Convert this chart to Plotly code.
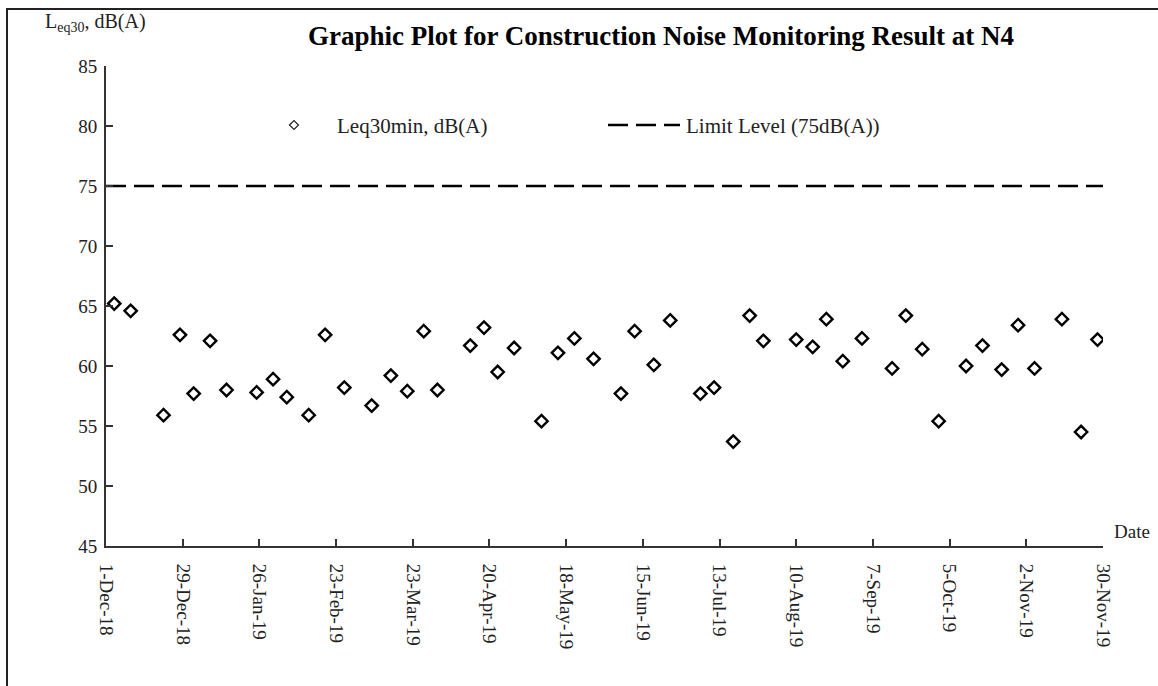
import plotly.graph_objects as go

# ---- data ----
dates = [
    "2018-12-04", "2018-12-10", "2018-12-22", "2018-12-28", "2019-01-02", "2019-01-08",
    "2019-01-14", "2019-01-25", "2019-01-31", "2019-02-05", "2019-02-13", "2019-02-19",
    "2019-02-26", "2019-03-08", "2019-03-15", "2019-03-21", "2019-03-27", "2019-04-01",
    "2019-04-13", "2019-04-18", "2019-04-23", "2019-04-29", "2019-05-09", "2019-05-15",
    "2019-05-21", "2019-05-28", "2019-06-07", "2019-06-12", "2019-06-19", "2019-06-25",
    "2019-07-06", "2019-07-11", "2019-07-18", "2019-07-24", "2019-07-29", "2019-08-10",
    "2019-08-16", "2019-08-21", "2019-08-27", "2019-09-03", "2019-09-14", "2019-09-19",
    "2019-09-25", "2019-10-01", "2019-10-11", "2019-10-17", "2019-10-24", "2019-10-30",
    "2019-11-05", "2019-11-15", "2019-11-22", "2019-11-28",
]
leq30 = [
    65.2, 64.6, 55.9, 62.6, 57.7, 62.1,
    58.0, 57.8, 58.9, 57.4, 55.9, 62.6,
    58.2, 56.7, 59.2, 57.9, 62.9, 58.0,
    61.7, 63.2, 59.5, 61.5, 55.4, 61.1,
    62.3, 60.6, 57.7, 62.9, 60.1, 63.8,
    57.7, 58.2, 53.7, 64.2, 62.1, 62.2,
    61.6, 63.9, 60.4, 62.3, 59.8, 64.2,
    61.4, 55.4, 60.0, 61.7, 59.7, 63.4,
    59.8, 63.9, 54.5, 62.2,
]
limit_dates = ["2018-12-01", "2019-11-30"]
limit_level = [75, 75]
x_range = ["2018-12-01", "2019-11-30"]
y_ticks = [45, 50, 55, 60, 65, 70, 75, 80, 85]

# ---- geometry helpers (pixel -> paper) ----
W, H = 1158, 686
L, R, T, B = 106, 55, 66, 140
PW, PH = W - L - R, H - T - B


def px(x):
    return (x - L) / PW


def py(y):
    return (H - B - y) / PH


FONT = "Liberation Serif, Times New Roman, serif"
TXT = "#222"

fig = go.Figure()
fig.add_trace(go.Scatter(
    x=limit_dates, y=limit_level, mode="lines",
    line=dict(color="black", width=2.5, dash="20px,8px"),
    showlegend=False, hoverinfo="skip",
))
fig.add_trace(go.Scatter(
    x=dates, y=leq30, mode="markers",
    marker=dict(symbol="diamond-open", size=9.5, color="black",
                line=dict(color="black", width=2.4)),
    showlegend=False,
))

fig.update_layout(
    width=W, height=H,
    margin=dict(l=L, r=R, t=T, b=B, autoexpand=False),
    paper_bgcolor="white", plot_bgcolor="white",
    font=dict(family=FONT, size=19, color=TXT),
    showlegend=False,
    xaxis=dict(
        type="date", range=x_range, tick0="2018-12-01", dtick=28 * 86400000,
        tickformat="%-d-%b-%y", tickangle=90, showgrid=False, zeroline=False,
        showline=True, linecolor="#333", linewidth=2,
        ticks="inside", ticklen=7, tickwidth=1.5, tickcolor="#333",
        ticklabelstandoff=12,
        tickfont=dict(family=FONT, size=19, color=TXT),
    ),
    yaxis=dict(
        range=[45, 85], tickvals=y_ticks, showgrid=False, zeroline=False,
        showline=True, linecolor="#333", linewidth=2,
        ticks="inside", ticklen=7, tickwidth=1.5, tickcolor="#333",
        ticklabelstandoff=3,
        tickfont=dict(family=FONT, size=19, color=TXT),
    ),
)

annotations = [
    dict(text="<b>Graphic Plot for Construction Noise Monitoring Result at N4</b>",
         x=px(661), y=py(36), font=dict(size=27, color="black")),
    dict(text="L<sub>eq30</sub>, dB(A)", x=px(43), y=py(22), xanchor="left",
         font=dict(size=20, color=TXT)),
    dict(text="Date", x=px(1112), y=py(531), xanchor="left",
         font=dict(size=19, color=TXT)),
    dict(text="Leq30min, dB(A)", x=px(335), y=py(126), xanchor="left",
         font=dict(size=21, color=TXT)),
    dict(text="Limit Level (75dB(A))", x=px(684), y=py(126), xanchor="left",
         font=dict(size=21, color=TXT)),
]
for a in annotations:
    a.update(xref="paper", yref="paper", showarrow=False, yanchor="middle",
             font=dict(family=FONT, **a["font"]))
    a.setdefault("xanchor", "center")
fig.update_layout(annotations=annotations)

shapes = [
    # outer frame
    dict(type="rect", xref="paper", yref="paper",
         x0=px(7), x1=px(1175), y0=py(9), y1=py(705),
         line=dict(color="#222", width=2), fillcolor="rgba(0,0,0,0)"),
    # legend dashed line
    dict(type="line", xref="paper", yref="paper",
         x0=px(608), x1=px(680), y0=py(125), y1=py(125),
         line=dict(color="black", width=2.5, dash="20px,8px")),
    # legend diamond
    dict(type="path", xref="paper", yref="paper",
         xsizemode="pixel", ysizemode="pixel", xanchor=px(294), yanchor=py(125),
         path="M -4.5 0 L 0 4.5 L 4.5 0 L 0 -4.5 Z",
         line=dict(color="#222", width=1.2), fillcolor="white"),
]
fig.update_layout(shapes=shapes)

fig.write_html("out.html", config={"displayModeBar": False},
               post_script="document.body.style.margin='0';document.body.style.padding='0';")
